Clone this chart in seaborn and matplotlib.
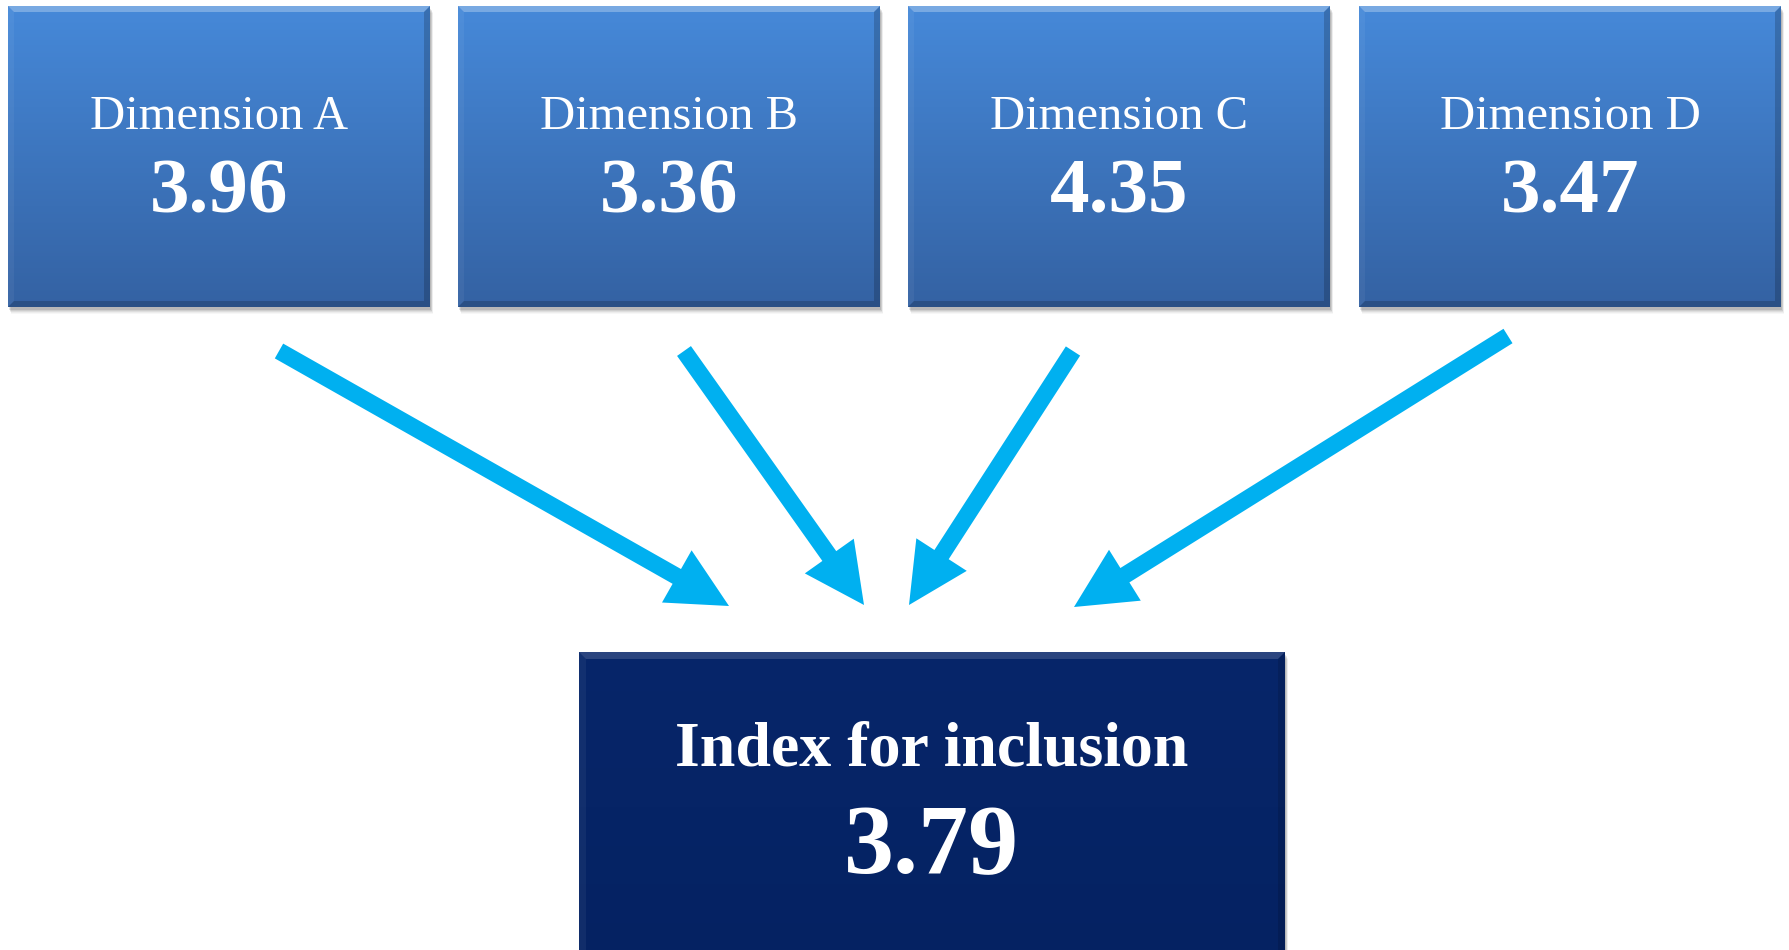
import numpy as np
import matplotlib
matplotlib.use("Agg")
import matplotlib.pyplot as plt
from matplotlib.patches import Rectangle, Polygon, FancyArrow
from matplotlib.colors import LinearSegmentedColormap
import seaborn as sns

# ---- data ----
dimensions = ["Dimension A", "Dimension B", "Dimension C", "Dimension D"]
scores = [3.96, 3.36, 4.35, 3.47]
index_label = "Index for inclusion"
index_score = 3.79

sns.set_theme(style="white")
plt.rcParams["font.family"] = ["Liberation Serif", "DejaVu Serif"]

W, H = 1789, 950
fig = plt.figure(figsize=(W / 100, H / 100), dpi=100)
ax = fig.add_axes([0, 0, 1, 1])
ax.set_xlim(0, W)
ax.set_ylim(H, 0)
ax.axis("off")


def draw_box(x0, y0, w, h, top_col, bot_col, bev=6, top_alpha=0.28, dark_alpha=0.18):
    # shadow
    for i, a in enumerate([0.10, 0.08, 0.06, 0.04, 0.03]):
        ax.add_patch(Rectangle((x0 + 1 + i * 0.5, y0 + 3 + i), w, h, color="black",
                               alpha=a, lw=0, zorder=1))
    cmap = LinearSegmentedColormap.from_list("g", [top_col, bot_col])
    grad = np.linspace(0, 1, 256).reshape(-1, 1)
    ax.imshow(grad, cmap=cmap, extent=[x0, x0 + w, y0 + h, y0], aspect="auto",
              interpolation="bicubic", zorder=2)
    # bevels
    x1, y1 = x0 + w, y0 + h
    ax.add_patch(Polygon([(x0, y0), (x1, y0), (x1 - bev, y0 + bev), (x0 + bev, y0 + bev)],
                         closed=True, color="white", alpha=top_alpha, lw=0, zorder=3))
    ax.add_patch(Polygon([(x0, y0), (x0 + bev, y0 + bev), (x0 + bev, y1 - bev), (x0, y1)],
                         closed=True, color="white", alpha=0.05, lw=0, zorder=3))
    ax.add_patch(Polygon([(x1, y0), (x1, y1), (x1 - bev, y1 - bev), (x1 - bev, y0 + bev)],
                         closed=True, color="black", alpha=dark_alpha, lw=0, zorder=3))
    ax.add_patch(Polygon([(x0, y1), (x1, y1), (x1 - bev, y1 - bev), (x0 + bev, y1 - bev)],
                         closed=True, color="black", alpha=dark_alpha, lw=0, zorder=3))


box_left = [8, 458, 908, 1359]
box_w, box_top, box_h = 422, 6, 301
for xl, name, val in zip(box_left, dimensions, scores):
    draw_box(xl, box_top, box_w, box_h, "#4689d9", "#3462a3")
    cx = xl + box_w / 2
    ax.text(cx, 117, name, ha="center", va="center", color="white",
            fontsize=35, zorder=5)
    ax.text(cx, 194, f"{val:.2f}", ha="center", va="center", color="white",
            fontsize=57, fontweight="bold", zorder=5)

# bottom box
bx, by, bw, bh = 579, 652, 706, 310
draw_box(bx, by, bw, bh, "#07266a", "#052262", bev=7, top_alpha=0.15, dark_alpha=0.12)
ax.text(bx + bw / 2, 750, index_label, ha="center", va="center", color="white",
        fontsize=46, fontweight="bold", zorder=5)
ax.text(bx + bw / 2, 849, f"{index_score:.2f}", ha="center", va="center",
        color="white", fontsize=72, fontweight="bold", zorder=5)

# arrows (tail -> tip)
arrow_color = "#00b0f0"
tails = [(279, 351), (684, 351), (1073, 351), (1508, 336)]
tips = [(729, 606), (864, 605), (909, 605), (1074, 607)]
for (tx, ty), (hx, hy) in zip(tails, tips):
    ax.add_patch(FancyArrow(tx, ty, hx - tx, hy - ty, width=17, head_width=60,
                            head_length=60, length_includes_head=True,
                            color=arrow_color, lw=0, zorder=4))

fig.savefig("out.png", dpi=100, facecolor="white")
